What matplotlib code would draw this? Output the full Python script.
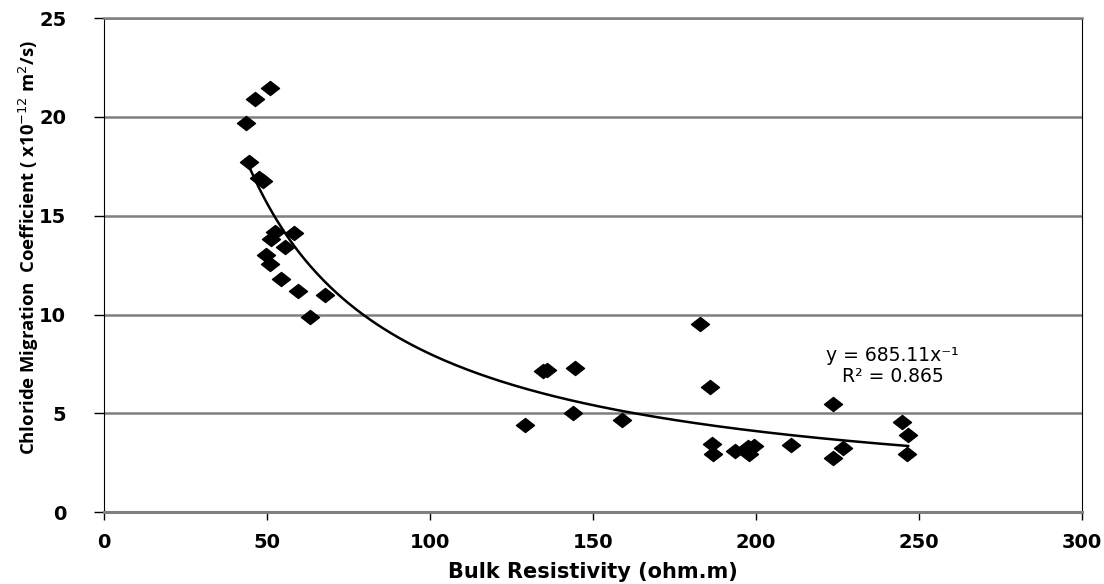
import numpy as np
import matplotlib
matplotlib.use("Agg")
import matplotlib.pyplot as plt
from matplotlib.path import Path

# bulk resistivity (ohm.m) and chloride migration coefficient (x1e-12 m2/s)
resistivity = [43.6, 46.4, 50.9, 44.4, 47.6, 48.9, 52.5, 58.3, 51.2, 55.5,
               49.9, 50.9, 54.5, 59.6, 67.8, 63.2,
               134.8, 136.0, 144.5, 129.1, 143.8, 158.8, 182.8, 185.9,
               186.4, 186.9, 193.5, 197.5, 198.0, 199.5, 210.9, 223.7,
               226.8, 223.7, 244.7, 246.7, 246.2]
migration = [19.7, 20.9, 21.45, 17.7, 16.9, 16.75, 14.2, 14.15, 13.8, 13.4,
             13.0, 12.55, 11.8, 11.2, 11.0, 9.9,
             7.15, 7.2, 7.27, 4.4, 5.03, 4.66, 9.5, 6.35,
             3.44, 2.94, 3.1, 3.3, 2.95, 3.35, 3.39, 2.72,
             3.27, 5.47, 4.57, 3.9, 2.94]

# power trendline y = a * x^b (exponent shown rounded on the label)
coef_a = 685.11
coef_b = -0.966
r_squared = 0.865

x_ticks = [0, 50, 100, 150, 200, 250, 300]
y_ticks = [0, 5, 10, 15, 20, 25]

diamond = Path([(-1, 0), (0, 0.78), (1, 0), (0, -0.78), (-1, 0)],
               [Path.MOVETO, Path.LINETO, Path.LINETO, Path.LINETO, Path.CLOSEPOLY])

fig = plt.figure(figsize=(11.04, 5.84), dpi=100)
ax = fig.add_axes([0.094, 0.123, 0.886, 0.846])

for yv in y_ticks[1:]:
    ax.axhline(yv, color="#7f7f7f", lw=1.8, zorder=1)

xs = np.linspace(min(resistivity), max(resistivity), 300)
ax.plot(xs, coef_a * xs ** coef_b, color="black", lw=1.8, zorder=2)

ax.plot(resistivity, migration, linestyle="none", marker=diamond,
        markersize=13, color="black", zorder=3)

ax.set_xlim(0, 300)
ax.set_ylim(0, 25)
ax.set_xticks(x_ticks)
ax.set_yticks(y_ticks)
ax.tick_params(axis="x", labelsize=14, length=6, width=1, direction="out", pad=9)
ax.tick_params(axis="y", labelsize=14, length=7, width=1, direction="out", pad=20)
for lab in ax.get_xticklabels() + ax.get_yticklabels():
    lab.set_fontweight("bold")

ax.spines["left"].set_color("black")
ax.spines["right"].set_color("black")
ax.spines["top"].set_color("#7f7f7f")
ax.spines["bottom"].set_color("#7f7f7f")
ax.spines["top"].set_linewidth(1.8)
ax.spines["bottom"].set_linewidth(2.2)

ax.set_xlabel("Bulk Resistivity (ohm.m)", fontsize=15, fontweight="bold")
ax.xaxis.set_label_coords(0.5, -0.1)
ax.set_ylabel("Chloride Migration  Coefficient ( x10$^{-12}$ m$^{2}$/s)",
              fontsize=13.3, fontweight="bold", family="Open Sans")
ax.yaxis.set_label_coords(-0.064, 0.536)

ax.text(242, 7.95, "y = 685.11x⁻¹", ha="center", va="center", fontsize=13.5)
ax.text(242, 6.84, "R² = %.3f" % r_squared, ha="center", va="center", fontsize=13.5)

fig.savefig("out.png", dpi=100)
